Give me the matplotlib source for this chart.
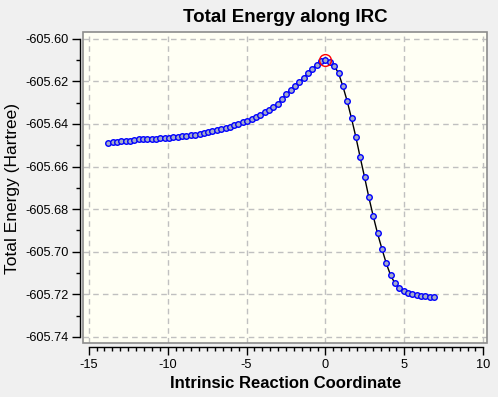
import matplotlib
matplotlib.use("Agg")
import matplotlib.pyplot as plt
from matplotlib.patches import Rectangle
from matplotlib.ticker import MultipleLocator, FormatStrFormatter

plt.rcParams["font.family"] = ["Liberation Sans", "DejaVu Sans"]
plt.rcParams["axes.unicode_minus"] = False

# Coordenada de reaccion (IRC) y energia total en Hartree
irc = [
    -13.77, -13.49, -13.21, -12.94, -12.66, -12.39, -12.11, -11.84, -11.56, -11.29,
    -11.01, -10.74, -10.46, -10.19, -9.91, -9.64, -9.36, -9.08, -8.81, -8.53,
    -8.26, -7.98, -7.71, -7.43, -7.16, -6.88, -6.61, -6.33, -6.06, -5.78,
    -5.51, -5.23, -4.96, -4.68, -4.40, -4.13, -3.85, -3.58, -3.30, -3.03,
    -2.75, -2.48, -2.20, -1.93, -1.65, -1.38, -1.10, -0.83, -0.55, -0.28,
    0.00,
    0.28, 0.55, 0.83, 1.10, 1.38, 1.65, 1.93, 2.20, 2.48, 2.75,
    3.03, 3.30, 3.58, 3.85, 4.13, 4.40, 4.68, 4.96, 5.23, 5.51,
    5.78, 6.06, 6.33, 6.61, 6.88,
]
energia = [
    -605.6490, -605.6487, -605.6485, -605.6482, -605.6480, -605.6478, -605.6476, -605.6473, -605.6472, -605.6471,
    -605.6470, -605.6469, -605.6468, -605.6466, -605.6464, -605.6462, -605.6460, -605.6457, -605.6455, -605.6454,
    -605.6451, -605.6447, -605.6444, -605.6440, -605.6433, -605.6429, -605.6424, -605.6418, -605.6413, -605.6406,
    -605.6400, -605.6393, -605.6385, -605.6377, -605.6368, -605.6356, -605.6344, -605.6334, -605.6322, -605.6307,
    -605.6284, -605.6262, -605.6241, -605.6222, -605.6203, -605.6183, -605.6162, -605.6141, -605.6122, -605.6107,
    -605.6102,
    -605.6108, -605.6127, -605.6162, -605.6223, -605.6294, -605.6374, -605.6463, -605.6557, -605.6651, -605.6745,
    -605.6834, -605.6914, -605.6987, -605.7054, -605.7111, -605.7148, -605.7170, -605.7186, -605.7195, -605.7199,
    -605.7205, -605.7208, -605.7210, -605.7213, -605.7214,
]
# Punto actual (estado de transicion)
actual_x = [0.00]
actual_y = [-605.6102]

W, H = 498, 397
fig = plt.figure(figsize=(W / 100, H / 100), dpi=100, facecolor="#f0f0f0")
ax = fig.add_axes([0.1673, 0.1353, 0.8106, 0.7834])
ax.set_facecolor("#fffff4")

ax.plot(irc, energia, color="black", linewidth=1, marker="o", markersize=4.0,
        markerfacecolor="#a4abc8", markeredgecolor="#0000ff", markeredgewidth=1, zorder=3)
ax.plot(actual_x, actual_y, linestyle="none", marker="o", markersize=8.5,
        markerfacecolor="none", markeredgecolor="red", markeredgewidth=1, zorder=4)

ax.set_xlim(-15.342, 10.234)
ax.set_ylim(-605.74296, -605.59700)

ax.xaxis.set_major_locator(MultipleLocator(5))
ax.xaxis.set_minor_locator(MultipleLocator(0.5))
ax.yaxis.set_major_locator(MultipleLocator(0.02))
ax.yaxis.set_minor_locator(MultipleLocator(0.01))
ax.yaxis.set_major_formatter(FormatStrFormatter("%.2f"))

ax.grid(True, which="major", color="#c0c0c0", linestyle=(0, (4, 3)), linewidth=1)
ax.set_axisbelow(True)

# Marco gris del area de grafico
for s in ["top", "right"]:
    ax.spines[s].set_visible(False)
ax.add_patch(Rectangle((0, 0), 1, 1, transform=ax.transAxes, fill=False,
                       edgecolor="#8c8c8c", linewidth=1.2, clip_on=False, zorder=5))

# Ejes desplazados fuera del marco
ax.spines["left"].set_position(("outward", 2.2))
ax.spines["left"].set_bounds(-605.74, -605.60)
ax.spines["bottom"].set_position(("outward", 2.5))
ax.spines["bottom"].set_bounds(-15, 10)
for s in ["left", "bottom"]:
    ax.spines[s].set_linewidth(1)
    ax.spines[s].set_color("black")

ax.tick_params(which="major", length=5.5, width=1, labelsize=9.2, pad=3)
ax.tick_params(which="minor", length=3.2, width=1)

fig.text(285 / W, 1 - 17 / H, "Total Energy along IRC", fontsize=13.5,
         fontweight="bold", ha="center", va="center")
fig.text(286 / W, 1 - 384 / H, "Intrinsic Reaction Coordinate", fontsize=12,
         fontweight="bold", ha="center", va="center")
fig.text(12.7 / W, 1 - 188 / H, "Total Energy (Hartree)", fontsize=12.5,
         rotation=90, ha="center", va="center")

fig.savefig("out.png", dpi=100, facecolor=fig.get_facecolor())
